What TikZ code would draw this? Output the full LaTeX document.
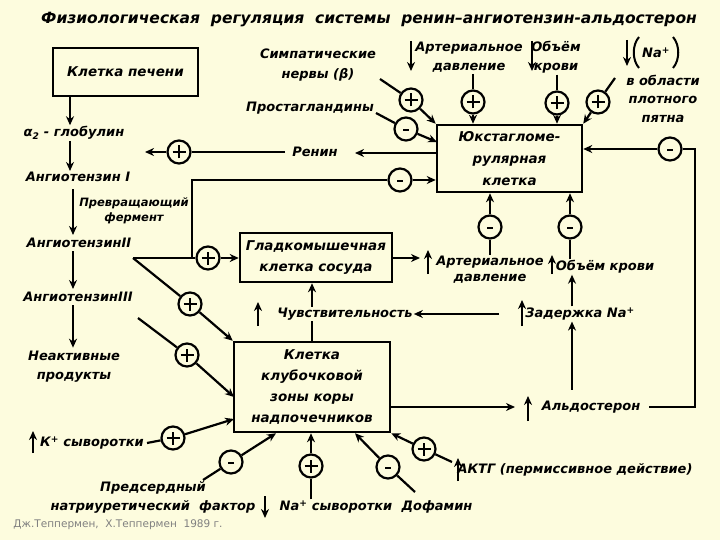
\documentclass[tikz,border=0pt]{standalone}
\usepackage{fontspec}
\setmainfont{DejaVu Sans}
\usetikzlibrary{arrows.meta}
\definecolor{bg}{RGB}{253,252,222}
\newcommand{\lfs}[2]{\fontsize{#1}{#2}\selectfont\bfseries\itshape}
\tikzset{
 lbl/.style={font=\lfs{13}{16}, inner sep=1pt, align=center},
 box/.style={draw, line width=2.5pt, align=center, inner sep=0pt},
 conn/.style={line width=2.2pt},
 arr/.style={conn, -{Stealth[length=9pt,width=8pt]}},
 ind/.style={line width=2.6pt, -{Stealth[length=9pt,width=8pt]}},
 sgn/.style={circle, draw, line width=2.2pt, minimum size=23pt, inner sep=0pt, fill=bg},
 pnode/.style={sgn, path picture={
   \draw[line width=2.6pt] ([xshift=-6.5pt]path picture bounding box.center) -- ([xshift=6.5pt]path picture bounding box.center);
   \draw[line width=2.6pt] ([yshift=-6.5pt]path picture bounding box.center) -- ([yshift=6.5pt]path picture bounding box.center);}},
 mnode/.style={sgn, path picture={
   \draw[line width=2.2pt] ([xshift=-3pt,yshift=-1pt]path picture bounding box.center) -- ([xshift=3pt,yshift=-1pt]path picture bounding box.center);}},
}
\begin{document}
\begin{tikzpicture}[x=1pt,y=-1pt]
\fill[bg] (0,0) rectangle (720,540);
\useasboundingbox (0,0) rectangle (720,540);

% title
\node[lbl, font=\lfs{15.5}{18}] (title) at (369,20) {Физиологическая\ \ регуляция\ \ системы\ \ ренин--ангиотензин-альдостерон};

% column coordinates
\coordinate (colA) at (70,0);
\coordinate (colB) at (73,0);
\coordinate (colC) at (312,0);
\coordinate (colZ) at (572,0);

% left column
\node[box, font=\lfs{13.5}{16}, minimum width=145pt, minimum height=48pt] (liver) at (125.5,72) {Клетка печени};
\node[lbl] (alpha) at (74,133) {α\textsubscript{2} - глобулин};
\node[lbl] (ang1) at (78,177) {Ангиотензин I};
\node[lbl, font=\lfs{11.5}{15}] (conv) at (134,210.5) {Превращающий\\фермент};
\node[lbl] (ang2) at (79,243) {АнгиотензинII};
\node[lbl] (ang3) at (78,297) {АнгиотензинIII};
\node[lbl, font=\lfs{13}{19}] (inact) at (74,366.5) {Неактивные\\продукты};

\draw[arr] (liver.south -| colA) -- (alpha.north -| colA);
\draw[arr] (alpha.south -| colA) -- (ang1.north -| colA);
\draw[arr, shorten <=6pt, shorten >=2pt] (ang1.south -| colB) -- (ang2.north -| colB);
\draw[arr, shorten <=2pt, shorten >=2pt] (ang2.south -| colB) -- (ang3.north -| colB);
\draw[arr, shorten <=2pt, shorten >=2pt] (ang3.south -| colB) -- (inact.north -| colB);

% boxes
\node[box, font=\lfs{13.5}{22}, minimum width=145pt, minimum height=67pt] (jg) at (509.5,158.5) {Юкстагломе-\\рулярная\\клетка};
\node[box, font=\lfs{13.5}{21}, minimum width=152pt, minimum height=49pt] (glad) at (316,257.5) {Гладкомышечная\\клетка сосуда};
\node[box, font=\lfs{13.5}{21}, minimum width=156pt, minimum height=90pt] (klub) at (312,387) {Клетка\\клубочковой\\зоны коры\\надпочечников};

% renin
\node[lbl] (ren) at (315,152) {Ренин};
\node[pnode] (pren) at (179,152) {};
\coordinate (renEnd) at (145,152);
\coordinate (renIn) at (355,153);
\draw[arr] (jg.west |- renIn) -- (renIn);
\draw[conn] ([xshift=-6pt]ren.west) -- (pren);
\draw[arr] (pren) -- (renEnd);

% angiotensin II branches
\coordinate (a2o) at (133,258);
\coordinate (a2c) at (192,258);
\node[pnode] (pgl) at (208,258) {};
\node[mnode] (mang) at (400,180) {};
\draw[conn] (a2o) -- (pgl);
\draw[arr] (pgl) -- (pgl -| glad.west);
\draw[conn] (a2c) |- (mang);
\draw[arr] (mang) -- (jg.west |- mang);
\node[pnode] (pk1) at (190,304) {};
\draw[conn] (a2o) -- (pk1);
\draw[arr] (pk1) -- (klub.north west);

% angiotensin III
\coordinate (a3o) at (138,318);
\coordinate (k2e) at (234,397);
\node[pnode] (pk2) at (187,355) {};
\draw[conn] (a3o) -- (pk2);
\draw[arr] (pk2) -- (k2e);

% K+
\node[lbl] (kser) at (92,443) {К\textsuperscript{+} сыворотки};
\draw[ind] (33,453) -- (33,431);
\node[pnode] (pkk) at (173,438) {};
\coordinate (kke) at (234,419);
\draw[conn] ([xshift=2pt]kser.east) -- (pkk);
\draw[arr] (pkk) -- (kke);

% PNF
\node[lbl, font=\lfs{13}{19}] (pnf) at (153,497.5) {Предсердный\\натриуретический\ \ фактор};
\coordinate (pnfs) at (203,480);
\node[mnode] (mpnf) at (231,462) {};
\draw[conn] (pnfs) -- (mpnf);
\draw[arr] (mpnf) -- ([xshift=-36pt]klub.south);

% Na serum
\node[lbl] (naser) at (336,507) {Na\textsuperscript{+} сыворотки};
\draw[ind] (265,496) -- (265,518);
\node[pnode] (pna2) at (311,466) {};
\draw[conn] (pna2 |- naser.north) -- (pna2);
\draw[arr] (pna2) -- (pna2 |- klub.south);

% dopamine
\node[lbl] (dop) at (437,507) {Дофамин};
\coordinate (dops) at (415,492);
\node[mnode] (mdop) at (388,467) {};
\draw[conn] (dops) -- (mdop);
\draw[arr] (mdop) -- ([xshift=43pt]klub.south);

% ACTH
\node[lbl] (acth) at (575,470) {АКТГ (пермиссивное действие)};
\draw[ind] (458,481) -- (458,458);
\coordinate (acths) at (452,462);
\node[pnode] (pacth) at (424,449) {};
\draw[conn] (acths) -- (pacth);
\draw[arr] (pacth) -- (klub.south east);

% citation
\node[font=\fontsize{10.5}{12}\selectfont, text=gray, inner sep=0pt] (cite) at (118,525) {Дж.Теппермен,\ \ Х.Теппермен\ \ 1989 г.};

% right middle
\coordinate (glEnd) at (420,258);
\draw[arr] (glad.east |- glEnd) -- (glEnd);
\draw[ind] (428,274) -- (428,250);
\node[lbl, font=\lfs{13}{16}] (artb) at (490,270) {Артериальное\\давление};
\node[mnode] (mart) at (490,227) {};
\draw[conn] (artb.north) -- (mart);
\draw[arr] (mart) -- (mart |- jg.south);
\node[lbl] (volb) at (605,267) {Объём крови};
\draw[ind] (552,274) -- (552,255);
\node[mnode] (mvol) at (570,227) {};
\draw[conn] (mvol |- volb.north) -- (mvol);
\draw[arr] (mvol) -- (mvol |- jg.south);

\node[lbl] (zad) at (580,314) {Задержка Na\textsuperscript{+}};
\draw[ind] (522,326) -- (522,300);
\draw[arr] (zad.north -| colZ) -- (volb.south -| colZ);
\node[lbl] (chuv) at (345,314) {Чувствительность};
\draw[arr] ([xshift=-25pt]zad.west) -- (chuv.east);
\draw[ind] (258,326) -- (258,302);
\draw[arr] (chuv.north -| colC) -- (glad.south -| colC);
\draw[conn] (klub.north -| colC) -- (chuv.south -| colC);

\node[lbl] (ald) at (591,407) {Альдостерон};
\coordinate (aldIn) at (515,407);
\draw[arr] (klub.east |- ald) -- (aldIn);
\draw[ind] (528,421) -- (528,396);
\draw[arr, shorten <=10pt] (ald.north -| colZ) -- (zad.south -| colZ);
\node[mnode] (mfb) at (670,149) {};
\coordinate (fbc) at (695,407);
\draw[conn] ([xshift=8pt]ald.east) -- (fbc) |- (mfb);
\draw[arr] (mfb) -- (jg.east |- mfb);

% top inputs
\node[lbl, font=\lfs{13}{20}] (simp) at (318,65) {Симпатические\\нервы (β)};
\coordinate (simps) at (380,79);
\node[pnode] (psimp) at (411,100) {};
\draw[conn] (simps) -- (psimp);
\draw[arr] (psimp) -- (jg.north west);

\node[lbl] (prost) at (310,108) {Простагландины};
\coordinate (prosts) at (376,113);
\coordinate (prostE) at (437,142);
\node[mnode] (mprost) at (406,129) {};
\draw[conn] (prosts) -- (mprost);
\draw[arr] (mprost) -- (prostE);

\node[lbl, font=\lfs{13}{19}] (artt) at (469,57.5) {Артериальное\\давление};
\draw[ind] (411,41) -- (411,71);
\node[pnode] (part) at (473,102) {};
\draw[conn] (artt.south -| part) -- (part);
\draw[arr] (part) -- (part |- jg.north);

\node[lbl, font=\lfs{13}{19}] (volt) at (556,57.5) {Объём\\крови};
\draw[ind] (532,41) -- (532,71);
\node[pnode] (pvol) at (557,103) {};
\draw[conn] (volt.south -| pvol) -- (pvol);
\draw[arr] (pvol) -- (pvol |- jg.north);

\node[lbl] (nat) at (656,53) {Na\textsuperscript{+}};
\draw[line width=2pt] (639,37) .. controls (632,45) and (632,60) .. (639,68);
\draw[line width=2pt] (673,37) .. controls (680,45) and (680,60) .. (673,68);
\draw[ind] (627,40) -- (627,66);
\node[lbl, font=\lfs{13}{18.5}] (natl) at (663,98.5) {в области\\плотного\\пятна};
\coordinate (nas) at (615,78);
\node[pnode] (pna) at (598,102) {};
\draw[conn] (nas) -- (pna);
\draw[arr] (pna) -- (jg.north east);
\end{tikzpicture}
\end{document}
